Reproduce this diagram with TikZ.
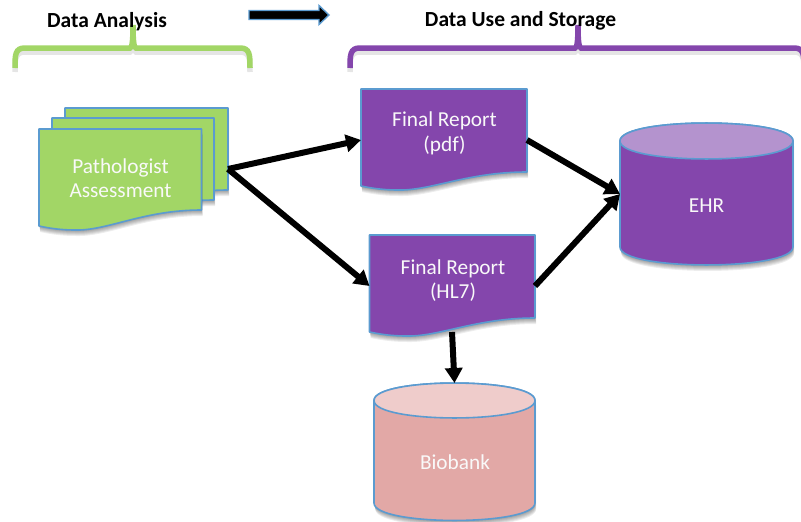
\documentclass[tikz,border=0pt]{standalone}
\usepackage{fontspec}
\setmainfont{Carlito}
\usetikzlibrary{arrows.meta}
\definecolor{grn}{HTML}{A2D666}
\definecolor{pur}{HTML}{8446AC}
\definecolor{purlt}{HTML}{B493CE}
\definecolor{pnk}{HTML}{E2A8A6}
\definecolor{pnklt}{HTML}{EFCCCB}
\definecolor{edge}{HTML}{5B9BD0}
\tikzset{
  x=1pt,y=-1pt,
  shapeedge/.style={draw=edge,line width=1.6pt,line join=round},
  anchorbox/.style={draw=none,fill=none,inner sep=0pt,outer sep=0pt,rectangle},
  lbl/.style={text=white!95!gray,align=center,font=\fontsize{21.3}{24.5}\selectfont,inner sep=0pt},
  heading/.style={text=black,font=\fontsize{21.5}{25}\selectfont\bfseries,inner sep=0pt},
  flow/.style={line width=6pt,draw=black,-{Triangle[length=15pt,width=17pt]}},
  brace/.style={line width=5.5pt,line cap=butt},
}
% soft shadow: repeats a path, offset downward
\newcommand{\softshadow}[1]{%
  \foreach \d in {1,2,...,6}{%
    \begin{scope}[yshift=-\d pt,xshift=0.2*\d pt]
      \fill[black,opacity=0.07] #1;
    \end{scope}}}
% document path: x1,ytop,x2,yright,yleft
\newcommand{\docpath}[5]{%
  (#1,#2) -- (#3,#2) -- (#3,#4)
  .. controls ({#1+0.64*(#3-#1)},#4) and ({#1+0.42*(#3-#1)},#5+5) .. ({#1+0.22*(#3-#1)},#5+4)
  .. controls ({#1+0.14*(#3-#1)},#5+4) and ({#1+0.07*(#3-#1)},#5+2.5) .. (#1,#5) -- cycle}
\newcommand{\docshape}[6]{%
  \softshadow{\docpath{#2}{#3}{#4}{#5}{#6}}
  \path[shapeedge,fill=#1] \docpath{#2}{#3}{#4}{#5}{#6};}
% cylinder: x1,x2,ycentre top,ry,yside end
\newcommand{\cylpath}[5]{%
  (#1,#3) -- (#1,#5) .. controls (#1,{#5+1.33*#4}) and (#2,{#5+1.33*#4}) .. (#2,#5) -- (#2,#3)
  .. controls (#2,{#3-1.33*#4}) and (#1,{#3-1.33*#4}) .. (#1,#3) -- cycle}
\newcommand{\cylshape}[7]{%
  \softshadow{\cylpath{#3}{#4}{#5}{#6}{#7}}
  \path[shapeedge,fill=#1] \cylpath{#3}{#4}{#5}{#6}{#7};
  \path[shapeedge,fill=#2] (#3,#5) .. controls (#3,{#5+1.33*#6}) and (#4,{#5+1.33*#6}) .. (#4,#5)
    .. controls (#4,{#5-1.33*#6}) and (#3,{#5-1.33*#6}) .. (#3,#5) -- cycle;}
\newcommand{\bracepath}[3]{%
  (#1,68) .. controls (#1,55) and (#1,48) .. ({#1+10},48) -- ({#3-3},48)
  .. controls ({#3-1},48) and (#3,42) .. (#3,25)
  .. controls (#3,42) and ({#3+1},48) .. ({#3+3},48) -- ({#2-10},48)
  .. controls (#2,48) and (#2,55) .. (#2,68)}
\begin{document}
\begin{tikzpicture}
\useasboundingbox (0,0) rectangle (801,522);
\fill[white] (0,0) rectangle (801,522);

% braces
\begin{scope}[yshift=-4pt]
  \draw[brace,black,opacity=0.10] \bracepath{15}{250}{133};
  \draw[brace,black,opacity=0.10] \bracepath{350}{804}{578};
\end{scope}
\draw[brace,draw=grn] \bracepath{15}{250}{133};
\draw[brace,draw=pur] \bracepath{350}{804}{578};

% headings
\node[heading] (hA) at (107,22) {Data Analysis};
\node[heading] (hU) at (520.5,21) {Data Use and Storage};

% block arrow
\path[fill=black,draw=edge,line width=1.4pt,line join=miter]
  (249,10.5) -- (319,10.5) -- (319,5.5) -- (329,15) -- (319,24.5) -- (319,19.5) -- (249,19.5) -- cycle;

% shapes
\docshape{grn}{65}{108}{228}{190}{206}
\docshape{grn}{52}{118}{214}{200}{216}
\docshape{grn}{39}{129}{201.5}{210}{226}
\docshape{pur}{361}{89}{527}{172}{186}
\docshape{pur}{369.5}{235}{535}{318}{332}
\cylshape{pur}{purlt}{620}{793}{141}{18}{247}
\cylshape{pnk}{pnklt}{374}{535}{400.5}{17.5}{503}

% anchors matching shape extents
\node[anchorbox,minimum width=189pt,minimum height=122pt] (assess) at (133.5,169) {};
\node[anchorbox,minimum width=166pt,minimum height=102pt] (pdf) at (444,140) {};
\node[anchorbox,minimum width=165.5pt,minimum height=102pt] (hl) at (452.25,286) {};
\node[anchorbox,minimum width=173pt,minimum height=142pt] (ehr) at (706.5,194) {};
\node[anchorbox,minimum width=161pt,minimum height=137pt] (bio) at (454.5,451.5) {};

% labels
\node[lbl] (tA) at (120.5,178) {Pathologist\\Assessment};
\node[lbl] (tP) at (444.5,133.5) {Final Report\\(pdf)};
\node[lbl] (tH) at (453,280.5) {Final Report\\(HL7)};
\node[lbl] (tE) at (706.5,206) {EHR};
\node[lbl] (tB) at (455,462) {Biobank};

% connectors
\draw[flow] (assess.east) -- (pdf.west);
\draw[flow] (assess.east) -- (hl.west);
\draw[flow] (pdf.east) -- (ehr.west);
\draw[flow] (hl.east) -- (ehr.west);
\draw[flow,shorten <=-5pt] (hl.south) -- (bio.north);
\end{tikzpicture}
\end{document}
